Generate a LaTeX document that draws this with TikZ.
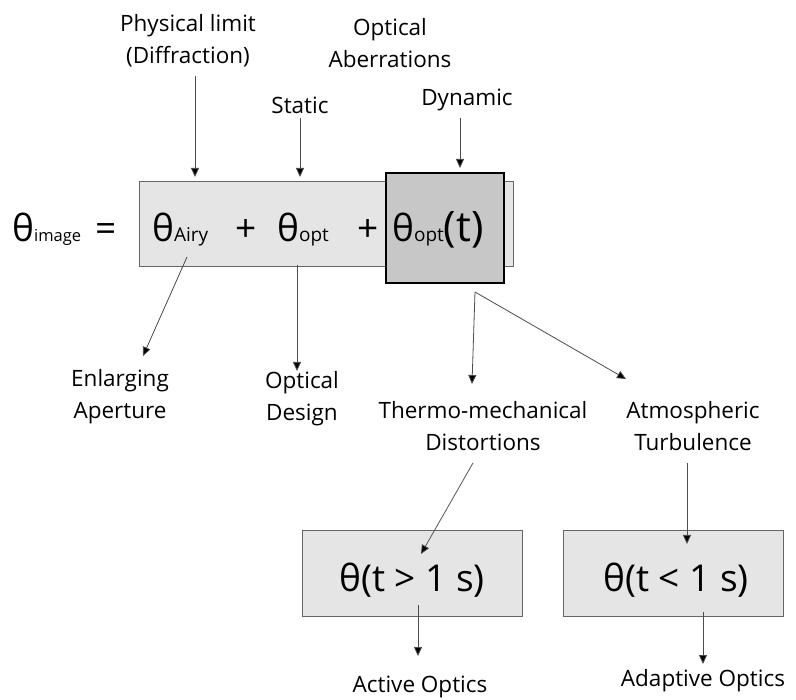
\documentclass[tikz,border=0pt]{standalone}
\usepackage{fontspec}
\setmainfont{Open Sans}
\usetikzlibrary{arrows.meta}
\newcommand{\bigtxt}[1]{{\fontsize{37}{37}\selectfont #1}}
\newcommand{\hugetxt}[1]{{\fontsize{42}{42}\selectfont #1}}
\newcommand{\sbs}[1]{{\fontsize{19}{19}\selectfont #1}}
\newcommand{\smsbs}[1]{{\fontsize{16.5}{17}\selectfont #1}}
\begin{document}
\begin{tikzpicture}[x=1pt,y=-1pt,
  lbl/.style={align=center,font=\fontsize{22.5}{32}\selectfont,inner sep=0pt},
  eqt/.style={anchor=base west,inner sep=0pt},
  lightbox/.style={draw=gray!80!black,fill=black!10,line width=0.8pt,inner sep=0pt},
  darkbox/.style={draw=black,fill=black!22,line width=2.8pt,inner sep=0pt},
  arr/.style={draw=black!70,line width=0.8pt,-{Triangle[width=8pt,length=9pt,fill=black]}}]
\useasboundingbox[fill=white] (0,0) rectangle (796,700);
% boxes
\node[lightbox,minimum width=374pt,minimum height=85pt] (lbox) at (326,223.5) {};
\node[darkbox,minimum width=118pt,minimum height=110pt] (dbox) at (445,228) {};
\node[lightbox,minimum width=220pt,minimum height=86pt] (box1) at (412,573) {};
\node[lightbox,minimum width=220pt,minimum height=86pt] (box2) at (673,573) {};
% equation
\node[eqt] (thimg) at (12,242) {\bigtxt{θ}\smsbs{image}};
\node[eqt,anchor=base] (eq) at (106,242) {\bigtxt{=}};
\node[eqt] (thairy) at (152,242) {\bigtxt{θ}\sbs{Airy}};
\node[eqt,anchor=base] (plus1) at (246,242) {\bigtxt{+}};
\node[eqt] (thopt) at (277,242) {\bigtxt{θ}\sbs{opt}};
\node[eqt,anchor=base] (plus2) at (368,242) {\bigtxt{+}};
\node[eqt] (thoptt) at (392,242) {\bigtxt{θ}\sbs{opt}\hugetxt{(t)}};
\node[inner sep=0pt,anchor=base] (th1) at (412,592) {\bigtxt{θ(t > 1 s)}};
\node[inner sep=0pt,anchor=base] (th2) at (676,592) {\bigtxt{θ(t < 1 s)}};
% labels
\node[lbl] (phys) at (188,41) {Physical limit\\(Diffraction)};
\node[lbl] (optab) at (390,43) {Optical\\Aberrations};
\node[lbl] (static) at (300,105) {Static};
\node[lbl] (dyn) at (467,100) {Dynamic};
\node[lbl] (enl) at (120,397) {Enlarging\\Aperture};
\node[lbl] (odes) at (302,399) {Optical\\Design};
\node[lbl] (thermo) at (483,426) {Thermo-mechanical\\Distortions};
\node[lbl] (atm) at (693,426) {Atmospheric\\Turbulence};
\node[lbl] (active) at (420,687) {Active Optics};
\node[lbl] (adaptive) at (703,681) {Adaptive Optics};
% connector end points
\coordinate (p1a) at (195,76);  \coordinate (p1b) at (195,177);
\coordinate (p2a) at (300,118); \coordinate (p2b) at (300,177);
\coordinate (p3a) at (460,118); \coordinate (p3b) at (460,168);
\coordinate (p4a) at (187,257); \coordinate (p4b) at (143,356);
\coordinate (p5a) at (297,265); \coordinate (p5b) at (297,371);
\coordinate (p6a) at (475,292); \coordinate (p6b) at (472,384);
\coordinate (p7b) at (626,379);
\coordinate (p8a) at (473,463); \coordinate (p8b) at (421,554);
\coordinate (p9a) at (687,463); \coordinate (p9b) at (687,544);
\coordinate (p10a) at (418,605); \coordinate (p10b) at (418,656);
\coordinate (p11a) at (703,612); \coordinate (p11b) at (703,664);
% connectors
\draw[arr] (p1a) -- (p1b);
\draw[arr] (p2a) -- (p2b);
\draw[arr] (p3a) -- (p3b);
\draw[arr] (p4a) -- (p4b);
\draw[arr] (p5a) -- (p5b);
\draw[arr] (p6a) -- (p6b);
\draw[arr] (p6a) -- (p7b);
\draw[arr] (p8a) -- (p8b);
\draw[arr] (p9a) -- (p9b);
\draw[arr] (p10a) -- (p10b);
\draw[arr] (p11a) -- (p11b);
\end{tikzpicture}
\end{document}
